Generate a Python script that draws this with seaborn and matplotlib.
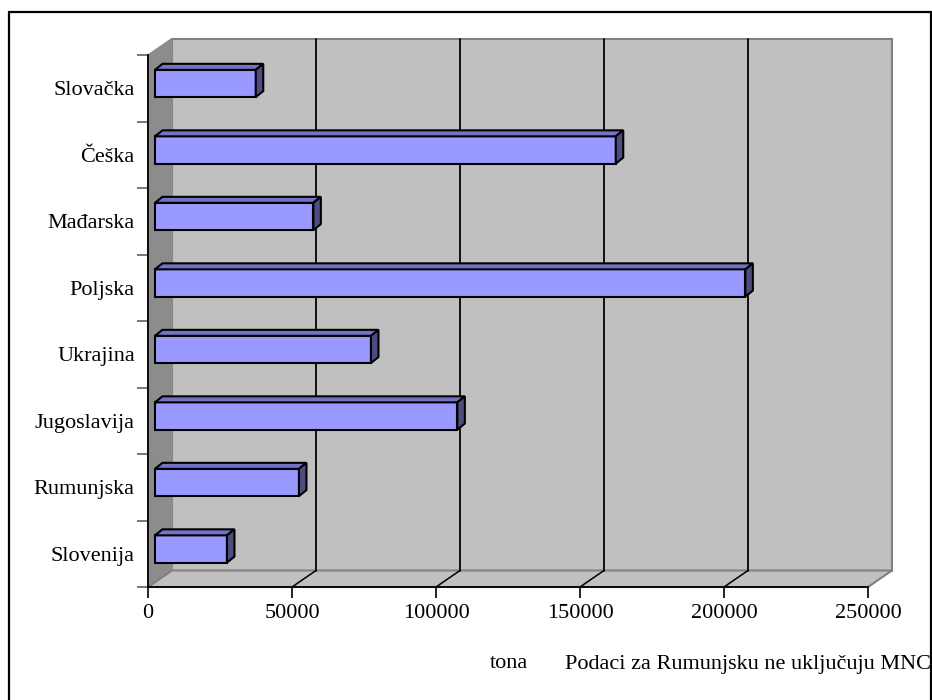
import matplotlib
matplotlib.use("Agg")
import matplotlib.pyplot as plt
from matplotlib.patches import Polygon, Rectangle
import seaborn as sns
import pandas as pd

# Data: tonnage per country (top to bottom)
countries = ["Slovačka", "Češka", "Mađarska", "Poljska", "Ukrajina",
             "Jugoslavija", "Rumunjska", "Slovenija"]
tonnes = [35000, 160000, 55000, 205000, 75000, 105000, 50000, 25000]
x_ticks = [0, 50000, 100000, 150000, 200000, 250000]
x_label = "tona"
note = "Podaci za Rumunjsku ne uključuju MNC"

sns.set_theme(style="white")
plt.rcParams["font.family"] = ["Liberation Serif", "DejaVu Serif"]

W, H = 932, 700
FS = 16
fig = plt.figure(figsize=(W / 100, H / 100), dpi=100)


def fx(px):
    return px / W


def fy(py):
    return 1 - py / H


# front plane of the pseudo-3D plot area
ax = fig.add_axes([fx(148), fy(587), fx(868) - fx(148), fy(55) - fy(587)])
ax.set_facecolor("none")

n = len(countries)
XMAX = x_ticks[-1]
ax.set_xlim(0, XMAX)
ax.set_ylim(n - 0.5, -0.5)

# depth offsets of the 3D box (in data units)
cat_px = 532 / n
DX = 24 / 720 * XMAX
DY = 16.5 / cat_px

wall_c = "#C0C0C0"
side_c = "#8C8C8C"
edge_c = "#808080"

ymin, ymax = -0.5, n - 0.5
back = Polygon([(DX, ymax - DY), (XMAX + DX, ymax - DY),
                (XMAX + DX, ymin - DY), (DX, ymin - DY)], closed=True,
               facecolor=wall_c, edgecolor=edge_c, lw=1.5, clip_on=False, zorder=0)
left = Polygon([(0, ymax), (DX, ymax - DY), (DX, ymin - DY), (0, ymin)], closed=True,
               facecolor=side_c, edgecolor=side_c, lw=1, clip_on=False, zorder=0)
floor = Polygon([(0, ymax), (XMAX, ymax), (XMAX + DX, ymax - DY), (DX, ymax - DY)],
                closed=True, facecolor=wall_c, edgecolor=edge_c, lw=1.5,
                clip_on=False, zorder=0)
for p in (back, left, floor):
    ax.add_patch(p)

# gridlines on back wall and floor
for t in x_ticks[1:-1]:
    ax.plot([t + DX, t + DX], [ymax - DY, ymin - DY], color="black", lw=1.3,
            clip_on=False, zorder=1)
    ax.plot([t, t + DX], [ymax, ymax - DY], color="black", lw=1.1,
            clip_on=False, zorder=1)

df = pd.DataFrame({"country": countries, "tonnes": tonnes})
sns.barplot(data=df, x="tonnes", y="country", orient="h", order=countries,
            width=0.41, color="#9999FF", saturation=1, edgecolor="black",
            linewidth=1.5, ax=ax, zorder=3)
ax.set_xlim(0, XMAX)
ax.set_ylim(n - 0.5, -0.5)

# bars sit partway into the box; extrude each one with a top and end face
f0 = 0.29
ddx = 7.5 / 720 * XMAX
ddy = 6.0 / cat_px
for bar in list(ax.patches):
    if not isinstance(bar, Rectangle):
        continue
    bar.set_x(bar.get_x() + f0 * DX)
    bar.set_y(bar.get_y() - f0 * DY)
    x0 = bar.get_x()
    x1 = x0 + bar.get_width()
    yt = bar.get_y()
    yb = yt + bar.get_height()
    top = Polygon([(x0, yt), (x1, yt), (x1 + ddx, yt - ddy), (x0 + ddx, yt - ddy)],
                  closed=True, facecolor="#7373C6", edgecolor="black", lw=1.5,
                  zorder=3, clip_on=False)
    side = Polygon([(x1, yt), (x1, yb), (x1 + ddx, yb - ddy), (x1 + ddx, yt - ddy)],
                   closed=True, facecolor="#4D4D80", edgecolor="black", lw=1.5,
                   zorder=3, clip_on=False)
    ax.add_patch(top)
    ax.add_patch(side)

# axes styling
for s in ("top", "right"):
    ax.spines[s].set_visible(False)
for s in ("left", "bottom"):
    ax.spines[s].set_color("black")
    ax.spines[s].set_linewidth(1.3)
    ax.spines[s].set_zorder(2)

ax.set_xticks(x_ticks)
ax.set_xticklabels([str(t) for t in x_ticks])
ax.set_yticks(range(n))
ax.set_yticklabels(countries)
ax.set_yticks([i - 0.5 for i in range(n + 1)], minor=True)
ax.tick_params(axis="x", which="major", direction="out", length=8, width=1.2,
               color="black", labelsize=FS, pad=4, bottom=True)
ax.tick_params(axis="y", which="major", length=0, pad=9.5, labelsize=FS, left=False)
ax.tick_params(axis="y", which="minor", direction="out", length=8, width=1.2,
               color="#606060", left=True)
ax.set_xlabel("")
ax.set_ylabel("")
for lab in ax.get_xticklabels() + ax.get_yticklabels():
    lab.set_color("black")

fig.text(fx(509), fy(663), x_label, ha="center", va="center", fontsize=FS,
         color="black")
fig.text(fx(565), fy(664), note, ha="left", va="center", fontsize=FS,
         color="black")

# outer frame (right and bottom edges sit at the image border)
fig.patches.append(Rectangle((fx(9), fy(705)), fx(931.5) - fx(9), fy(12) - fy(705),
                             transform=fig.transFigure, fill=False,
                             edgecolor="black", lw=1.6))

fig.savefig("out.png", dpi=100)
